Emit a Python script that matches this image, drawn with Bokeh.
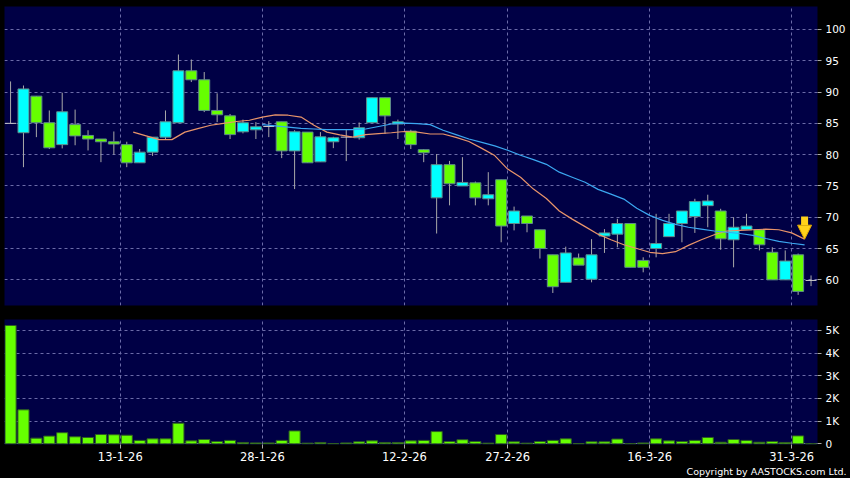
import numpy as np
from bokeh.plotting import figure
from bokeh.layouts import column
from bokeh.models import (ColumnDataSource, Range1d, FixedTicker, Arrow,
                          NormalHead, Title)
from bokeh.transform import dodge
from bokeh.embed import file_html
from bokeh.resources import INLINE

# ---------------- data ----------------
opens = [85.0, 83.5, 89.35, 85.1, 81.6, 84.8, 83.07, 82.5, 82.06, 81.6,
         78.7, 80.4, 82.8, 85.1, 93.4, 91.96, 87.06, 86.2, 83.65, 83.97,
         84.5, 85.25, 80.6, 83.6, 78.85, 82.06, 82.8, 82.7, 85.1, 89.1,
         84.9, 83.76, 80.8, 73.1, 78.4, 75.0, 75.5, 72.95, 76.0, 69.0,
         70.2, 68.0, 64.0, 59.6, 63.5, 60.1, 67.0, 67.3, 69.0, 63.1,
         65.0, 66.9, 69.0, 70.1, 71.85, 71.0, 66.4, 68.0, 68.0, 64.4,
         60.0, 64.0, 59.9]
highs = [91.7, 91.05, 89.35, 87.06, 89.9, 87.2, 83.9, 82.5, 83.7, 82.06,
         80.9, 82.8, 87.06, 96.0, 95.2, 93.2, 89.8, 86.5, 85.6, 85.2,
         85.35, 85.25, 83.9, 83.6, 83.6, 82.85, 84.1, 85.14, 89.1, 89.1,
         85.6, 83.97, 80.9, 80.1, 79.0, 79.6, 75.7, 77.2, 76.0, 71.7,
         70.2, 68.0, 64.0, 65.3, 64.2, 66.5, 68.1, 69.75, 69.0, 63.6,
         70.55, 70.55, 71.0, 72.95, 73.6, 71.35, 70.0, 70.55, 68.0, 65.2,
         64.7, 64.2, 60.7]
lows = [85.0, 78.0, 82.8, 80.9, 81.0, 81.5, 80.67, 78.8, 80.0, 78.0,
        78.7, 79.8, 82.5, 85.1, 91.6, 86.8, 85.2, 82.5, 83.4, 82.5,
        82.8, 79.45, 74.5, 78.7, 78.85, 81.04, 78.97, 82.4, 85.1, 83.3,
        82.5, 80.9, 78.8, 67.4, 71.9, 75.0, 71.9, 71.9, 66.0, 67.9,
        67.6, 63.4, 57.9, 59.6, 62.35, 59.6, 64.3, 65.2, 62.0, 61.2,
        63.6, 66.9, 66.0, 67.5, 68.4, 64.8, 62.0, 68.0, 64.7, 60.0,
        60.0, 57.6, 59.0]
closes = [85.0, 90.5, 85.1, 81.1, 86.85, 83.0, 82.5, 82.06, 81.7, 78.7,
          80.4, 82.8, 85.25, 93.4, 91.96, 87.06, 86.37, 83.2, 85.1, 84.45,
          84.5, 80.6, 83.65, 78.7, 82.85, 82.7, 82.8, 84.3, 89.1, 86.2,
          85.25, 81.6, 80.3, 78.4, 75.35, 75.56, 73.1, 73.6, 68.6, 71.0,
          69.0, 65.0, 58.9, 64.3, 62.35, 64.0, 67.5, 69.0, 62.0, 62.0,
          65.8, 69.0, 71.0, 72.5, 72.6, 66.55, 68.4, 68.6, 65.6, 60.0,
          63.0, 58.15, 59.9]
volumes_k = [5.22, 1.50, 0.25, 0.34, 0.49, 0.31, 0.28, 0.41, 0.40, 0.38,
             0.15, 0.22, 0.22, 0.91, 0.13, 0.19, 0.10, 0.15, 0.06, 0.04,
             0.04, 0.15, 0.57, 0.03, 0.06, 0.01, 0.04, 0.09, 0.13, 0.06,
             0.06, 0.13, 0.15, 0.54, 0.10, 0.18, 0.10, 0.03, 0.41, 0.09,
             0.03, 0.10, 0.15, 0.22, 0.01, 0.09, 0.09, 0.21, 0.005, 0.04,
             0.22, 0.13, 0.10, 0.15, 0.28, 0.07, 0.19, 0.15, 0.07, 0.10,
             0.06, 0.35, 0.0]
# moving averages (orange starts at day 10, blue at day 20)
ma_short = [83.6, 83.0, 82.4, 82.4, 83.6, 84.15, 84.7, 85.0, 85.3, 85.5,
            86.0, 86.35, 86.3, 86.0, 84.7, 83.6, 83.15, 82.8, 83.2, 83.35,
            83.5, 83.7, 83.6, 83.3, 83.3, 82.75, 82.1, 81.0, 79.85, 77.7,
            76.4, 74.5, 73.0, 71.0, 69.7, 68.5, 67.3, 66.4, 65.6, 65.0,
            64.4, 64.2, 64.5, 65.5, 66.4, 67.2, 67.8, 67.9, 68.0, 68.1,
            68.0, 67.5, 66.5]
ma_long = [84.8, 84.6, 84.4, 84.2, 84.1, 84.0, 84.0, 84.0, 84.1, 84.5,
           84.9, 85.05, 84.95, 84.8, 83.9, 83.2, 82.5, 81.95, 81.4, 80.7,
           79.9, 79.2, 78.45, 77.2, 76.4, 75.6, 74.45, 73.7, 72.9, 71.45,
           70.3, 69.5, 68.85, 68.4, 68.1, 67.8, 67.6, 67.4, 67.1, 66.6,
           66.15, 65.85, 65.6]
tick_index = [9, 20, 31, 39, 50, 61]
tick_labels = ["13-1-26", "28-1-26", "12-2-26", "27-2-26", "16-3-26", "31-3-26"]
price_ticks = [60, 65, 70, 75, 80, 85, 90, 95, 100]
volume_ticks = [0, 1, 2, 3, 4, 5]
volume_labels = ["0", "1K", "2K", "3K", "4K", "5K"]

# ---------------- styling ----------------
FONT = "DejaVu Sans"
BG = "#000045"
GRID = "#6b6ba8"
UP = "#00FFFF"
DOWN = "#66FF00"
WICK = "#a9a9a9"
EDGE = "#5f8a8a"

n = len(opens)
idx = np.arange(n)
o = np.array(opens); c = np.array(closes)
h = np.array(highs); l = np.array(lows)

full_short = np.full(n, np.nan); full_short[n - len(ma_short):] = ma_short
full_long = np.full(n, np.nan); full_long[n - len(ma_long):] = ma_long

src_all = ColumnDataSource(dict(x=idx, high=h, low=l, vol=volumes_k,
                                ma_s=full_short, ma_l=full_long))
up = c > o
dn = c < o
dj = c == o
src_up = ColumnDataSource(dict(x=idx[up], top=c[up], bottom=o[up]))
src_dn = ColumnDataSource(dict(x=idx[dn], top=o[dn], bottom=c[dn]))
src_dj = ColumnDataSource(dict(x=idx[dj], y=o[dj]))

grid_x = [t - 0.5 for t in tick_index]
x_range = Range1d(-0.47, n - 0.5)

W = 850
common = dict(width=W, output_backend="svg", toolbar_location=None,
              background_fill_color=BG, border_fill_color="black",
              outline_line_color=None, min_border_left=4,
              min_border_right=33, x_range=x_range)

# ---------------- price panel ----------------
p1 = figure(height=319, y_range=Range1d(55.9, 103.67), x_axis_location=None,
            y_axis_location="right", min_border_top=6, min_border_bottom=14,
            **common)
p1.yaxis.ticker = FixedTicker(ticks=price_ticks)

p1.segment(x0="x", y0="low", x1="x", y1="high", source=src_all,
           line_color=WICK, line_width=1)
p1.vbar(x="x", top="top", bottom="bottom", width=0.85, source=src_up,
        fill_color=UP, line_color=EDGE, line_width=1)
p1.vbar(x="x", top="top", bottom="bottom", width=0.85, source=src_dn,
        fill_color=DOWN, line_color=EDGE, line_width=1)
p1.scatter(x="x", y="y", marker="dash", size=11, source=src_dj,
           line_color="#c8c8c8", line_width=1)
p1.line(x=dodge("x", -0.5), y="ma_s", source=src_all, line_color="#E8946A",
        line_width=1.2)
p1.line(x=dodge("x", -0.5), y="ma_l", source=src_all, line_color="#3BA7F0",
        line_width=1.2)

# marker arrow pointing at the last short moving-average value
ax = n - 1.5
p1.add_layout(Arrow(end=NormalHead(size=14, fill_color="#FFD21A", line_color="#E0A800",
                                   line_width=1),
                    x_start=ax, y_start=ma_short[-1] + 3.6, x_end=ax, y_end=ma_short[-1],
                    line_color="#FFD21A", line_width=7))

# ---------------- volume panel ----------------
p2 = figure(height=159, y_range=Range1d(-0.03, 5.485), y_axis_location="right",
            min_border_top=0, min_border_bottom=34, **common)
p2.vbar(x="x", top="vol", bottom=0, width=0.86, source=src_all,
        fill_color=DOWN, line_color="#2f5e22", line_width=1)
p2.yaxis.ticker = FixedTicker(ticks=volume_ticks)
p2.yaxis.major_label_overrides = {t: s for t, s in zip(volume_ticks, volume_labels)}
p2.xaxis.ticker = FixedTicker(ticks=grid_x)
p2.xaxis.major_label_overrides = {g: s for g, s in zip(grid_x, tick_labels)}

for p in (p1, p2):
    p.xgrid.ticker = FixedTicker(ticks=grid_x)
    for g in (p.xgrid, p.ygrid):
        g.grid_line_color = GRID
        g.grid_line_dash = "3 3"
        g.grid_line_width = 1
    for a in p.axis:
        a.axis_line_color = None
        a.major_tick_line_color = "#aaaaaa"
        a.major_tick_out = 4
        a.major_tick_in = 0
        a.minor_tick_line_color = None
        a.major_label_text_color = "white"
        a.major_label_text_font = FONT
        a.major_label_standoff = 4
    for a in p.yaxis:
        a.major_label_text_font_size = "10.5px"
p2.xaxis.major_label_text_font_size = "11.5px"
p2.xaxis.major_label_standoff = 3

p2.add_layout(Title(text="Copyright by AASTOCKS.com Ltd.", align="right",
                    text_color="white", text_font=FONT, text_font_size="9.5px",
                    text_font_style="normal", standoff=0, offset=-29), "below")

layout = column(p1, p2, spacing=0)
html = file_html(layout, INLINE)
html = html.replace("<body>", '<body style="background-color:#000000;">')
open("out.html", "w").write(html)
